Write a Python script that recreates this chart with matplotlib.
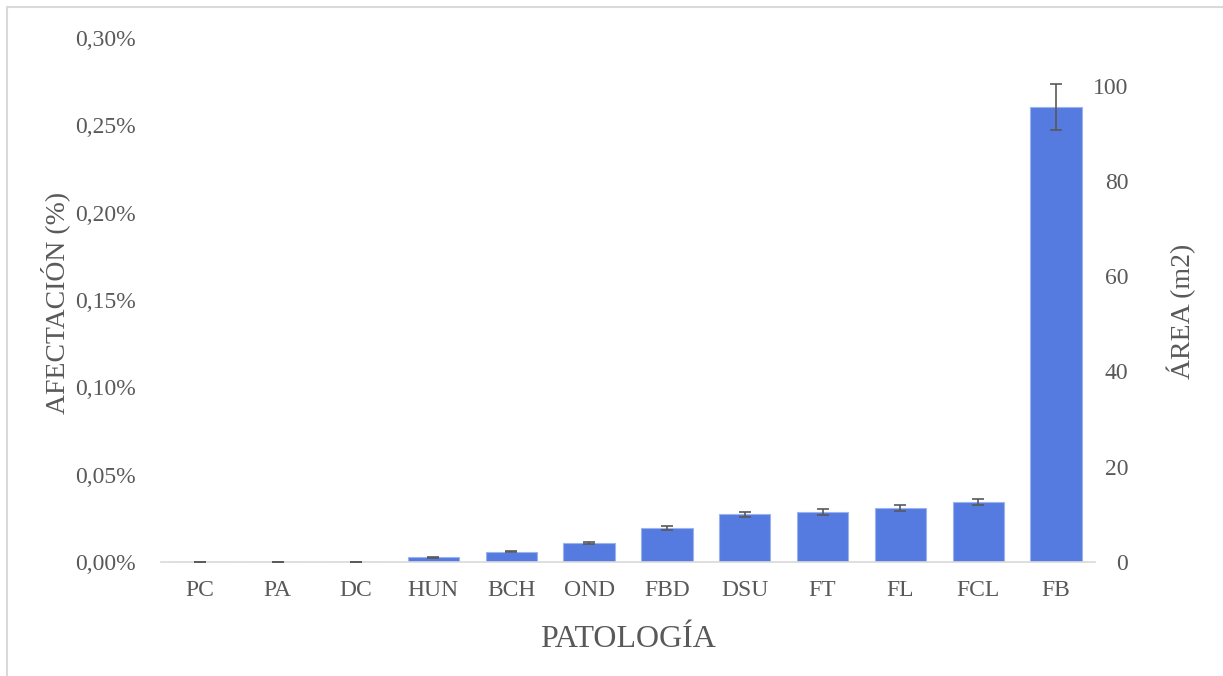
import numpy as np
import matplotlib
matplotlib.use("Agg")
import matplotlib.pyplot as plt
from matplotlib.ticker import FuncFormatter
from matplotlib.patches import Rectangle

# data, afectacion in %
categories = ['PC', 'PA', 'DC', 'HUN', 'BCH', 'OND', 'FBD', 'DSU', 'FT', 'FL', 'FCL', 'FB']
afectacion = [0.0, 0.0, 0.0, 0.0026, 0.0060, 0.0109, 0.0195, 0.0272, 0.0286, 0.0311, 0.0343, 0.2605]
error = [0.0, 0.0, 0.0, 0.0002, 0.0004, 0.0006, 0.0011, 0.0015, 0.0016, 0.0017, 0.0019, 0.0131]
area_ticks = [0, 20, 40, 60, 80, 100]
pct_ticks = [0.0, 0.05, 0.10, 0.15, 0.20, 0.25, 0.30]

plt.rcParams['font.family'] = ['Liberation Serif', 'DejaVu Serif']
grey = '#595959'

fig = plt.figure(figsize=(12.23, 6.76), dpi=100)
ax = fig.add_axes([161 / 1223, 1 - 562 / 676, (1095 - 161) / 1223, (562 - 38) / 676])

x = np.arange(len(categories))
ax.bar(x, afectacion, width=0.66, color='#557AE0', edgecolor='#9DB3EE', linewidth=0.8, zorder=2)
ax.errorbar(x, afectacion, yerr=error, fmt='none', ecolor=grey, elinewidth=1.2,
            capsize=4.5, capthick=1.2, zorder=3)

ax.set_xlim(-0.5, len(categories) - 0.5)
ax.set_ylim(0, 0.30)
ax.set_yticks(pct_ticks)
ax.yaxis.set_major_formatter(FuncFormatter(lambda v, p: ('%.2f%%' % v).replace('.', ',')))
ax.set_xticks(x)
ax.set_xticklabels(categories)
ax.tick_params(axis='both', length=0, labelsize=17, colors=grey)
ax.tick_params(axis='y', pad=18)
ax.tick_params(axis='x', pad=13)

for s in ['top', 'left', 'right']:
    ax.spines[s].set_visible(False)
ax.spines['bottom'].set_color('#D9D9D9')
ax.spines['bottom'].set_linewidth(1.2)

ax.set_xlabel('PATOLOGÍA', fontsize=23, color=grey, labelpad=17)
ax.set_ylabel('AFECTACIÓN (%)', fontsize=20, color=grey)
ax.yaxis.set_label_coords(-0.097, 0.495)

# secondary axis for area
ax2 = ax.twinx()
ax2.set_ylim(0, 110)
ax2.set_yticks(area_ticks)
ax2.tick_params(axis='y', length=0, labelsize=17, colors=grey, pad=24)
for lbl in ax2.get_yticklabels():
    lbl.set_horizontalalignment('right')
for s in ['top', 'left', 'right', 'bottom']:
    ax2.spines[s].set_visible(False)
ax2.set_ylabel('ÁREA (m2)', fontsize=20, color=grey)
ax2.yaxis.set_label_coords(1.077, 0.479)

# chart border
fig.patches.append(Rectangle((7 / 1223, -0.1), 1.2, 1 - 7 / 676 + 0.1, transform=fig.transFigure,
                             fill=False, edgecolor='#D9D9D9', linewidth=1.5))

fig.savefig('out.png', dpi=100)
